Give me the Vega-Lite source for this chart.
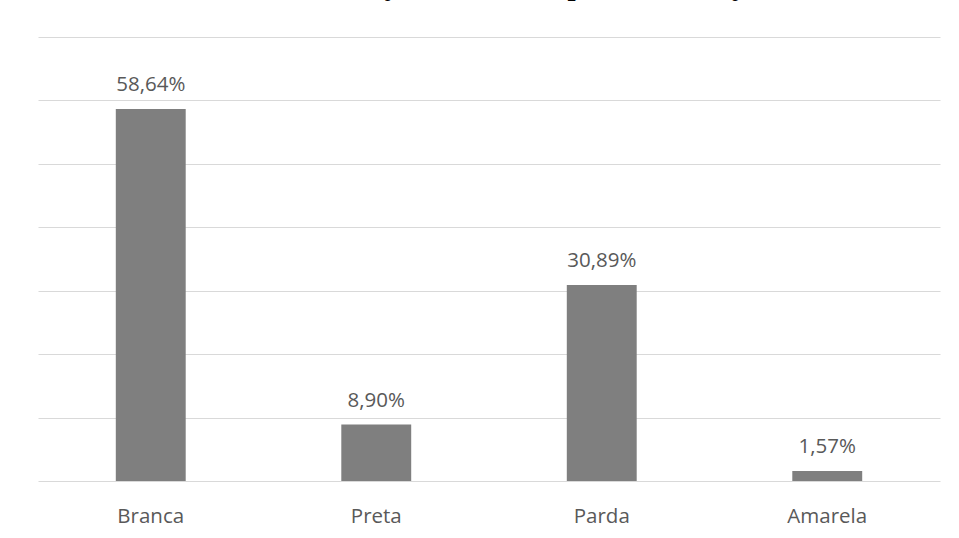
{
  "$schema": "https://vega.github.io/schema/vega-lite/v6.json",
  "width": 902,
  "height": 444,
  "autosize": {"type": "none"},
  "padding": {"left": 38, "top": 37, "right": 19, "bottom": 57},
  "background": "white",
  "title": {
    "text": "Gráfico 4 - Distribuição dos alunos por classificação racial",
    "font": "Liberation Serif",
    "fontWeight": "bold",
    "fontSize": 29,
    "color": "#000000",
    "anchor": "middle",
    "frame": "group",
    "baseline": "alphabetic",
    "offset": 13
  },
  "config": {
    "view": {"stroke": null},
    "locale": {"number": {"decimal": ",", "thousands": ".", "grouping": [3], "currency": ["R$", ""]}}
  },
  "data": {
    "values": [
      {"raca": "Branca", "valor": 0.5864},
      {"raca": "Preta", "valor": 0.089},
      {"raca": "Parda", "valor": 0.3089},
      {"raca": "Amarela", "valor": 0.0157}
    ]
  },
  "encoding": {
    "x": {
      "field": "raca",
      "type": "nominal",
      "sort": null,
      "scale": {"paddingInner": 0.69, "paddingOuter": 0.345},
      "axis": {
        "title": null,
        "domain": false,
        "ticks": false,
        "tickSize": 0,
        "labelAngle": 0,
        "labelFont": "Open Sans",
        "labelFontSize": 20.5,
        "labelColor": "#595959",
        "labelBaseline": "alphabetic",
        "labelPadding": 41
      }
    },
    "y": {
      "field": "valor",
      "type": "quantitative",
      "scale": {"domain": [0, 0.7], "nice": false},
      "axis": {
        "title": null,
        "labels": false,
        "ticks": false,
        "domain": false,
        "values": [0, 0.1, 0.2, 0.3, 0.4, 0.5, 0.6, 0.7],
        "gridColor": "#d9d9d9",
        "gridWidth": 1
      }
    }
  },
  "layer": [
    {"mark": {"type": "bar", "color": "#7f7f7f"}},
    {
      "mark": {"type": "text", "baseline": "alphabetic", "dy": -18, "font": "Open Sans", "fontSize": 20.5, "color": "#595959"},
      "encoding": {"text": {"field": "valor", "type": "quantitative", "format": ".2%"}}
    }
  ]
}
